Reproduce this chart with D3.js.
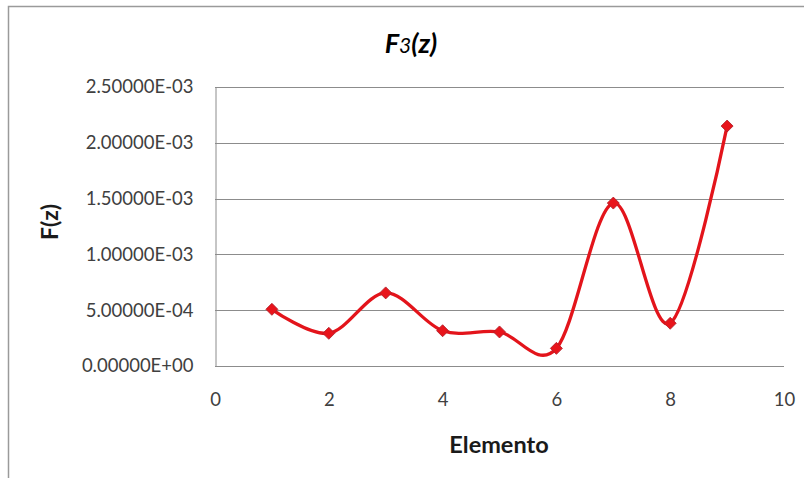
<!DOCTYPE html>
<html>
<head>
<meta charset="utf-8">
<script src="https://cdn.jsdelivr.net/npm/d3@7"></script>
<style>
  html, body { margin: 0; padding: 0; background: #fff; }
  svg { display: block; }
  text { font-family: Lato, "Open Sans", sans-serif; fill: #404040; }
</style>
</head>
<body>
<svg id="chart" width="804" height="478"></svg>
<script>
// Element index and F(z) value per element
const elementos = [1, 2, 3, 4, 5, 6, 7, 8, 9];
const fz = [5.08e-4, 2.93e-4, 6.55e-4, 3.16e-4, 3.05e-4, 1.58e-4, 1.46e-3, 3.83e-4, 2.15e-3];
const xTicks = [0, 2, 4, 6, 8, 10];
const yTicks = [0, 5e-4, 1e-3, 1.5e-3, 2e-3, 2.5e-3];

const svg = d3.select("#chart");
const W = 804, H = 478;

// Outer chart frame
svg.append("path")
  .attr("d", `M8.5,${H} V6.5 H${W}`)
  .attr("fill", "none").attr("stroke", "#9a9a9a").attr("stroke-width", 1.5);

const plot = { left: 215, right: 784, top: 87, bottom: 366 };

const x = d3.scaleLinear().domain([0, 10]).range([plot.left, plot.right]);
const y = d3.scaleLinear().domain([0, 2.5e-3]).range([plot.bottom, plot.top]);

const fmtY = v => {
  if (v === 0) return "0.00000E+00";
  const e = Math.floor(Math.log10(v));
  const m = v / Math.pow(10, e);
  const es = (e < 0 ? "-" : "+") + String(Math.abs(e)).padStart(2, "0");
  return m.toFixed(5) + "E" + es;
};

// Horizontal gridlines
svg.append("g")
  .selectAll("line").data(yTicks).join("line")
  .attr("x1", plot.left).attr("x2", plot.right)
  .attr("y1", d => Math.round(y(d)) + 0.5).attr("y2", d => Math.round(y(d)) + 0.5)
  .attr("stroke", "#8c8c8c").attr("stroke-width", 1);

// Axes
const yAxis = d3.axisLeft(y).tickValues(yTicks).tickFormat(fmtY).tickSize(0).tickPadding(22);
const gy = svg.append("g").attr("transform", `translate(${plot.left + 0.5},0)`).call(yAxis);
gy.select(".domain").attr("stroke", "#8c8c8c");
gy.selectAll("text").style("font-size", "18.5px").attr("fill", "#404040");

const xAxis = d3.axisBottom(x).tickValues(xTicks).tickFormat(d3.format("d")).tickSize(0).tickPadding(26);
const gx = svg.append("g").attr("transform", `translate(0,${plot.bottom + 0.5})`).call(xAxis);
gx.select(".domain").remove();
gx.selectAll("text").style("font-size", "18.5px").attr("fill", "#404040");

// Smoothed series line
const pts = elementos.map((e, i) => [e, fz[i]]);
const line = d3.line().x(d => x(d[0])).y(d => y(d[1])).curve(d3.curveCardinal.tension(0));
svg.append("path").datum(pts)
  .attr("d", line)
  .attr("fill", "none").attr("stroke", "#e3141b").attr("stroke-width", 3.3);

// Diamond markers
svg.append("g").selectAll("path").data(pts).join("path")
  .attr("transform", d => `translate(${x(d[0])},${y(d[1])}) rotate(45)`)
  .attr("d", d3.symbol().type(d3.symbolSquare).size(72))
  .attr("fill", "#e8141b").attr("stroke", "#b0202a").attr("stroke-width", 0.8);

// Title
const title = svg.append("text")
  .attr("x", 411).attr("y", 53).attr("text-anchor", "middle")
  .style("font-size", "27px").style("font-weight", "bold").style("font-style", "italic")
  .attr("fill", "#000");
title.append("tspan").text("F").style("fill", "#000");
title.append("tspan").text("3").style("font-size", "21px").style("font-weight", "normal").style("fill", "#000");
title.append("tspan").text("(z)").style("fill", "#000");

// Axis titles
svg.append("text")
  .attr("x", 499).attr("y", 453).attr("text-anchor", "middle")
  .style("font-size", "23.5px").style("font-weight", "bold")
  .style("fill", "#1a1a1a")
  .text("Elemento");

svg.append("text")
  .attr("transform", "translate(58,222) rotate(-90)").attr("text-anchor", "middle")
  .style("font-size", "23px").style("font-weight", "bold").style("fill", "#1a1a1a")
  .text("F(z)");
</script>
</body>
</html>
